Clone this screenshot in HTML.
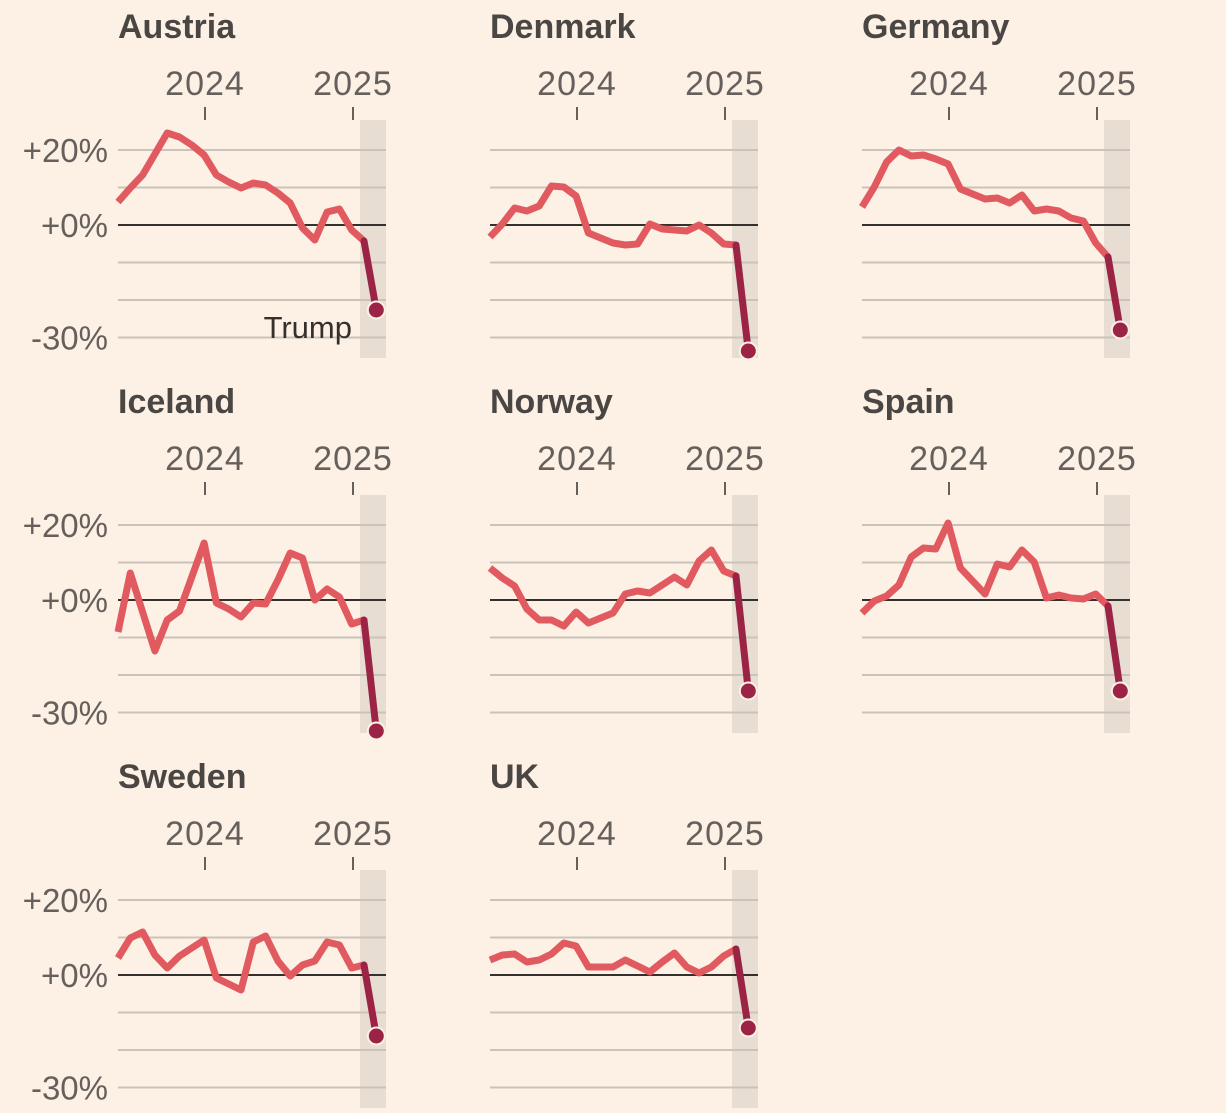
<!DOCTYPE html>
<html><head><meta charset="utf-8"><style>
html,body{margin:0;padding:0;background:#fdf1e6;}
svg{display:block;}
text{font-family:"Liberation Sans",sans-serif;}
</style></head><body>
<svg id="s" width="1226" height="1113" xmlns="http://www.w3.org/2000/svg"></svg>
<script>
const data={
Austria:[202,188,175,154,133,137,145,155,175,182,188,183,185,193,203,228,240,212,209,230,241,310],
Denmark:[237,224,208,211,206,186,187,196,233,238,243,245,244,224,229,230,231,225,233,244,245,351],
Germany:[207,187,162,150,156,155,159,164,189,194,199,198,203,195,211,209,211,218,221,243,257,330],
Iceland:[632,573,612,651,620,611,577,543,603,609,617,603,604,580,553,558,600,589,597,624,620,731],
Norway:[568,578,586,609,620,620,626,612,623,618,613,594,591,593,585,577,585,561,550,571,576,691],
Spain:[613,601,596,585,557,548,549,523,568,581,594,564,567,550,562,598,595,598,599,594,606,691],
Sweden:[958,938,932,955,968,956,948,940,978,984,990,942,936,961,976,965,961,942,945,968,965,1036],
UK:[960,955,954,962,960,954,943,946,967,967,967,960,966,972,962,953,967,973,967,956,949,1028]};
const names=Object.keys(data);
let h='';
names.forEach((n,i)=>{
 const col=i%3,row=Math.floor(i/3);
 const dx=col*372, dy=row*375, x0=118+dx;
 const yz=225+dy;
 h+=`<rect x="${360+dx}" y="${120+dy}" width="26" height="${238}" fill="#e8ddd2"/>`;
 [20,10,-10,-20,-30].forEach(v=>{const y=yz-v*3.75;h+=`<line x1="${x0}" x2="${x0+268}" y1="${y}" y2="${y}" stroke="#cbc2b9" stroke-width="2"/>`;});
 h+=`<line x1="${x0}" x2="${x0+268}" y1="${yz}" y2="${yz}" stroke="#33302e" stroke-width="2"/>`;
 h+=`<text x="${x0}" y="${38+dy}" font-size="34" font-weight="bold" fill="#4a4643">${n}</text>`;
 [[205,'2024'],[353,'2025']].forEach(([x,t])=>{
  h+=`<text x="${x+dx}" y="${95+dy}" font-size="34" text-anchor="middle" fill="#66605c" letter-spacing="1">${t}</text>`;
  h+=`<line x1="${x+dx}" x2="${x+dx}" y1="${107+dy}" y2="${120+dy}" stroke="#66605c" stroke-width="2"/>`;
 });
 if(col==0){
  [[20,'+20%'],[0,'+0%'],[-30,'-30%']].forEach(([v,t])=>{
   h+=`<text x="108" y="${yz-v*3.75+12}" font-size="33" text-anchor="end" fill="#66605c">${t}</text>`;});
 }
 const d=data[n];
 const pts=d.map((y,k)=>[x0+k*12.3,y]);
 const main=pts.slice(0,21).map(p=>p.join(',')).join(' ');
 h+=`<polyline points="${main}" fill="none" stroke="#e15a60" stroke-width="7" stroke-linejoin="round"/>`;
 h+=`<polyline points="${pts.slice(20).map(p=>p.join(',')).join(' ')}" fill="none" stroke="#9b2346" stroke-width="7" stroke-linecap="round"/>`;
 const l=pts[21];
 h+=`<circle cx="${l[0]}" cy="${l[1]}" r="8.5" fill="#9b2346" stroke="#fdf1e6" stroke-width="2"/>`;
 if(n=='Austria') h+=`<text x="352" y="338" font-size="31" text-anchor="end" fill="#33302e">Trump</text>`;
});
document.getElementById('s').innerHTML=h;
</script>
</body></html>
